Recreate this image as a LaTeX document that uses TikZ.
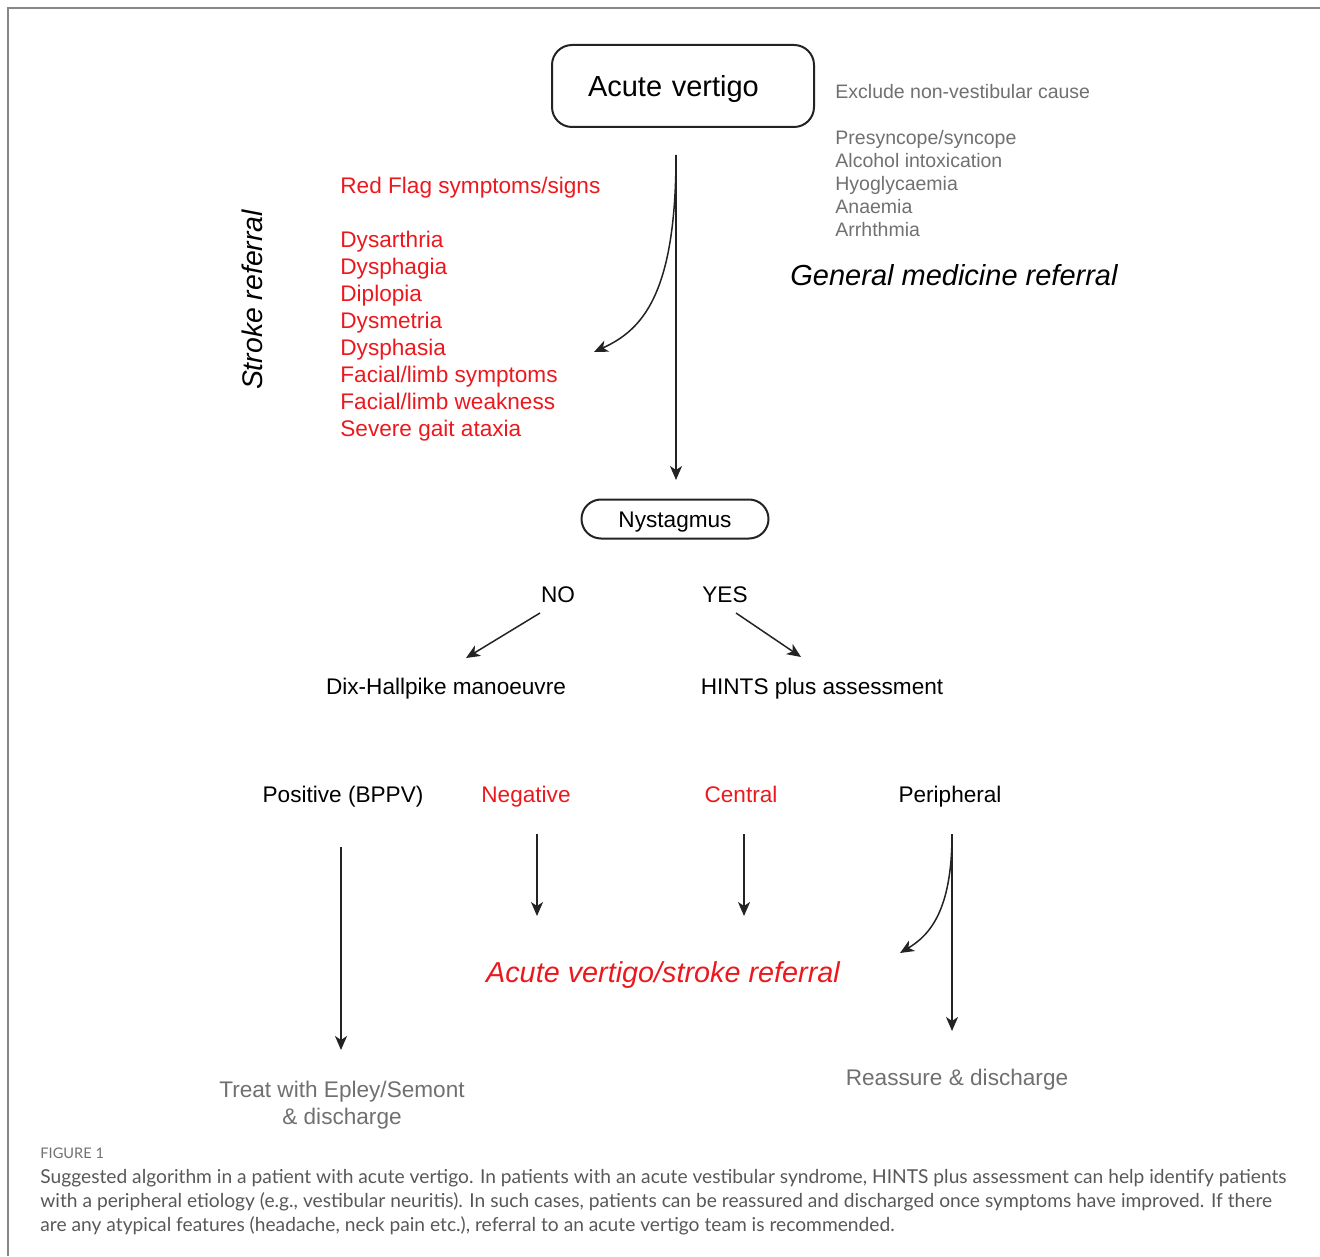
\documentclass[tikz,border=0pt]{standalone}
\usepackage{fontspec}
\setmainfont{Liberation Sans}
\newfontfamily\capfont{Lato}
\usetikzlibrary{arrows.meta,positioning}
\definecolor{flagred}{RGB}{235,25,30}
\definecolor{notegray}{RGB}{112,112,112}
\definecolor{framegray}{RGB}{135,135,135}
\definecolor{capgray}{RGB}{88,88,88}
\definecolor{ink}{RGB}{35,35,35}
\begin{document}
\begin{tikzpicture}[
                            x=0.5pt, y=-0.5pt,
                            >={Stealth[length=7pt,width=6pt,inset=2pt]},
                            flow/.style={draw=ink, line width=0.75pt, ->},
                            big/.style={font=\fontsize{14.5pt}{17pt}\selectfont, inner sep=0pt},
                            body/.style={font=\fontsize{11.3pt}{13.5pt}\selectfont, inner sep=0pt},
                            note/.style={font=\fontsize{9.75pt}{11.5pt}\selectfont, text=notegray, inner sep=0pt}
                            ]
            \useasboundingbox (0,0) rectangle (1320,1256);
            \draw[framegray, line width=1pt] (1320,8) -- (8,8) -- (8,1256);

            % top of the algorithm
            \node [draw=ink, line width=1pt, rounded corners=10pt, big, minimum width=131pt, minimum height=41pt,
                   text width=95pt, text height=10.4pt, text depth=0pt, inner xsep=18pt, inner ysep=0pt, align=left] (acute) at (683,86) {Acute vertigo};

            % multi-line nodes sit on the baseline of their last line
            \node [note, anchor=base west, align=left] (exclude) at (835,237)
                  {Exclude non-vestibular cause\\[11.5pt]
                   Presyncope/syncope\\
                   Alcohol intoxication\\
                   Hyoglycaemia\\
                   Anaemia\\
                   Arrhthmia};
            \node [big, anchor=base, font=\fontsize{14.5pt}{17pt}\selectfont\itshape] (genmed) at (954,286) {General medicine referral};

            \node [big, anchor=base, rotate=90, font=\fontsize{14.2pt}{17pt}\selectfont\itshape] (stroke) at (262,300) {Stroke referral};
            \node [body, anchor=base west, align=left, text=flagred] (redflag) at (340,437)
                  {Red Flag symptoms/signs\\[13.5pt]
                   Dysarthria\\
                   Dysphagia\\
                   Diplopia\\
                   Dysmetria\\
                   Dysphasia\\
                   Facial/limb symptoms\\
                   Facial/limb weakness\\
                   Severe gait ataxia};

            \coordinate (split) at (676,155);
            \coordinate (nysin) at (676,480);
            \coordinate (redin) at (594,352);
            \draw[flow] (split) -- (nysin);
            \draw[flow] (split) .. controls (676,295) and (642,330) .. (redin);

            % nystagmus branch
            \node [draw=ink, line width=1pt, rounded corners=9.75pt, body, minimum width=93.5pt, minimum height=19.5pt,
                   text height=8.1pt, text depth=0pt] (nys) at (675,519) {Nystagmus};
            \node [body, anchor=base] (no) at (558,602) {NO};
            \node [body, anchor=base] (yes) at (725,602) {YES};
            \node [body, anchor=base] (dix) at (446,694) {Dix-Hallpike manoeuvre};
            \node [body, anchor=base] (hints) at (822,694) {HINTS plus assessment};

            \coordinate (noout) at (540,613);
            \coordinate (dixin) at (466,658);
            \coordinate (yesout) at (736,613);
            \coordinate (hintsin) at (801,657);
            \draw[flow] (noout) -- (dixin);
            \draw[flow] (yesout) -- (hintsin);

            % outcomes
            \node [body, anchor=base] (positive) at (343,802) {Positive (BPPV)};
            \node [body, anchor=base, text=flagred] (negative) at (526,802) {Negative};
            \node [body, anchor=base, text=flagred] (central) at (741,802) {Central};
            \node [body, anchor=base] (peripheral) at (950,802) {Peripheral};

            \node [big, anchor=base, text=flagred, font=\fontsize{14.4pt}{17pt}\selectfont\itshape] (avsr) at (663,982) {Acute vertigo/stroke referral};
            \node [body, anchor=base, align=center, text=notegray] (epley) at (342,1124) {Treat with Epley/Semont\\\& discharge};
            \node [body, anchor=base, text=notegray] (reassure) at (957,1085) {Reassure \& discharge};

            \coordinate (posout) at (341,847);
            \coordinate (epleyin) at (341,1050);
            \coordinate (negout) at (537,834);
            \coordinate (negin) at (537,916);
            \coordinate (cenout) at (744,834);
            \coordinate (cenin) at (744,916);
            \coordinate (perout) at (952,834);
            \coordinate (perin) at (952,1031);
            \coordinate (peravsr) at (900,953);
            \draw[flow] (posout) -- (epleyin);
            \draw[flow] (negout) -- (negin);
            \draw[flow] (cenout) -- (cenin);
            \draw[flow] (perout) -- (perin);
            \draw[flow] (perout) .. controls (952,910) and (930,935) .. (peravsr);

            % caption
            \node [anchor=base west, inner sep=0pt, text=notegray, font=\capfont\fontsize{7.3pt}{9pt}\selectfont] (figlabel) at (40,1158) {FIGURE 1};
            \node [anchor=base west, inner sep=0pt, align=left, text=capgray, font=\capfont\fontsize{9.6pt}{12pt}\selectfont] (caption) at (40,1231)
                  {Suggested algorithm in a patient with acute vertigo. In patients with an acute vestibular syndrome, HINTS plus assessment can help identify patients\\
                   with a peripheral etiology (e.g., vestibular neuritis). In such cases, patients can be reassured and discharged once symptoms have improved. If there\\
                   are any atypical features (headache, neck pain etc.), referral to an acute vertigo team is recommended.};

                        \end{tikzpicture}
\end{document}
